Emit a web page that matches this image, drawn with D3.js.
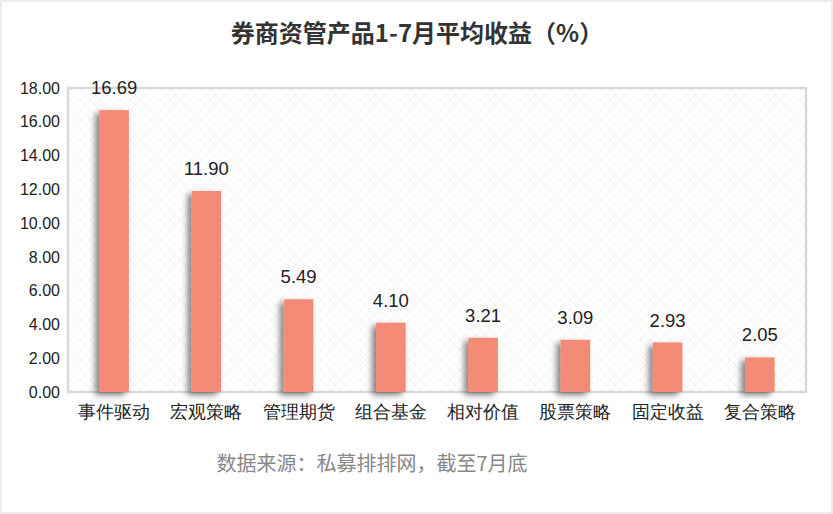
<!DOCTYPE html><html><head><meta charset="utf-8"><script src="https://cdn.jsdelivr.net/npm/d3@7"></script>
<style>body{margin:0;background:#fff;font-family:"Noto Sans CJK SC","Noto Sans",sans-serif}</style></head><body>
<script>
const categories=["事件驱动","宏观策略","管理期货","组合基金","相对价值","股票策略","固定收益","复合策略"];
const values=[16.69,11.90,5.49,4.10,3.21,3.09,2.93,2.05];
const yTicks=[0,2,4,6,8,10,12,14,16,18];
const W=833,H=514,m={l:68,r:806,t:88,b:392};
const svg=d3.select("body").append("svg").attr("width",W).attr("height",H);
const defs=svg.append("defs");
const p=defs.append("pattern").attr("id","hatch").attr("width",10).attr("height",10).attr("patternUnits","userSpaceOnUse");
p.append("path").attr("d","M0,10L10,0M0,0L10,10").attr("stroke","#e6e6e6").attr("stroke-width",0.8).attr("stroke-dasharray","2,1.5");
const f=defs.append("filter").attr("id","sh").attr("x","-50%").attr("y","-20%").attr("width","200%").attr("height","140%");
f.append("feGaussianBlur").attr("in","SourceAlpha").attr("stdDeviation",3);
f.append("feOffset").attr("dx",-4).attr("dy",3).attr("result","b");
f.append("feComponentTransfer").append("feFuncA").attr("type","linear").attr("slope",0.5);
const mg=f.append("feMerge");mg.append("feMergeNode");mg.append("feMergeNode").attr("in","SourceGraphic");
svg.append("rect").attr("x",1).attr("y",1).attr("width",W-2).attr("height",H-2).attr("fill","#fff").attr("stroke","#d9d9d9");
svg.append("text").attr("x",417).attr("y",42).attr("text-anchor","middle").attr("font-size",24).attr("font-weight","bold").attr("fill","#333").text("券商资管产品1-7月平均收益（%）");
const x=d3.scaleBand().domain(categories).range([m.l,m.r]).paddingInner(0.68).paddingOuter(0.34);
const y=d3.scaleLinear().domain([0,18]).range([m.b,m.t]);
svg.append("rect").attr("x",m.l).attr("y",m.t).attr("width",m.r-m.l).attr("height",m.b-m.t).attr("fill","url(#hatch)").attr("stroke","#d9d9d9").attr("stroke-width",2.5);
const ya=svg.append("g").attr("transform",`translate(${m.l},0)`).call(d3.axisLeft(y).tickValues(yTicks).tickFormat(d3.format(".2f")).tickSize(0).tickPadding(8));
ya.select(".domain").remove();
ya.selectAll("text").attr("font-size",16).attr("fill","#222").attr("font-family","Liberation Sans,Arial");
const xa=svg.append("g").attr("transform",`translate(0,${m.b})`).call(d3.axisBottom(x).tickSize(0).tickPadding(13));
xa.select(".domain").remove();
xa.selectAll("text").attr("font-size",18).attr("fill","#222");
svg.selectAll(".bar").data(values).enter().append("rect").attr("x",(d,i)=>x(categories[i])).attr("y",d=>y(d)).attr("width",x.bandwidth()).attr("height",d=>m.b-y(d)).attr("fill","#f28a75").attr("filter","url(#sh)");
svg.selectAll(".lbl").data(values).enter().append("text").attr("x",(d,i)=>x(categories[i])+x.bandwidth()/2).attr("y",d=>y(d)-16).attr("text-anchor","middle").attr("font-size",18.5).attr("fill","#222").attr("font-family","Liberation Sans,Arial").text(d=>d.toFixed(2));
svg.append("text").attr("x",372).attr("y",471).attr("text-anchor","middle").attr("font-size",20).attr("fill","#888").text("数据来源：私募排排网，截至7月底");
</script></body></html>
